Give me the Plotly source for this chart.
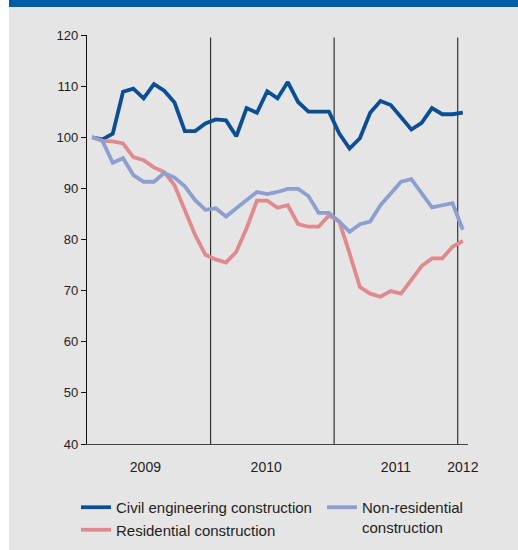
import plotly.graph_objects as go

# ---- data (monthly index, Jan 2009 = 100) ----
months = list(range(37))  # Jan 2009 .. Jan 2012
civil = [100.0, 99.6, 100.7, 108.9, 109.5, 107.6, 110.4, 109.1, 106.8, 101.2, 101.2, 102.7, 103.5,
         103.3, 100.2, 105.7, 104.8, 109.0, 107.6, 110.8, 106.9, 105.0, 105.0, 105.0,
         100.7, 97.8, 99.8, 104.8, 107.1, 106.3, 103.9, 101.5, 102.8, 105.7, 104.5, 104.5, 104.8]
residential = [100.0, 99.3, 99.2, 98.8, 96.1, 95.5, 94.1, 93.2, 90.6, 85.8, 80.9, 77.0, 76.1,
               75.5, 77.6, 82.2, 87.6, 87.6, 86.2, 86.7, 83.0, 82.5, 82.5, 84.7,
               83.5, 77.3, 70.7, 69.4, 68.8, 69.9, 69.4, 72.1, 74.8, 76.3, 76.3, 78.6, 79.7]
nonres = [100.0, 99.3, 95.0, 95.9, 92.6, 91.3, 91.3, 93.0, 92.1, 90.4, 87.7, 85.8, 86.1,
          84.5, 86.1, 87.7, 89.3, 88.9, 89.3, 89.9, 89.9, 88.5, 85.2, 85.2,
          83.5, 81.5, 83.0, 83.5, 86.7, 89.0, 91.3, 91.8, 89.0, 86.3, 86.7, 87.1, 81.9]
year_labels = ["2009", "2010", "2011", "2012"]
year_label_pos = [5.67, 17.4, 30.0, 36.5]
year_breaks = [12, 24, 36]
y_ticks = [40, 50, 60, 70, 80, 90, 100, 110, 120]

C_CIVIL = "#0a4f96"
C_RES = "#e08a90"
C_NONRES = "#8c9fd0"
BG = "#e5e5e5"
BAND = "#005ba5"
TXT = "#1e1e1e"
FONT = "Liberation Sans, Arial, sans-serif"

W, H = 518, 550
ML, MR, MT, MB = 87, 50, 35, 106
PW = W - ML - MR
PH = H - MT - MB


def px_x(p):
    return (p - ML) / PW


def px_y(p):
    return (H - MB - p) / PH


xs = [m + 0.5 for m in months]

fig = go.Figure()
fig.add_trace(go.Scatter(x=xs, y=civil, mode="lines", name="Civil engineering construction",
                         line=dict(color=C_CIVIL, width=3.8), legend="legend"))
fig.add_trace(go.Scatter(x=xs, y=residential, mode="lines", name="Residential construction",
                         line=dict(color=C_RES, width=3.8), legend="legend"))
fig.add_trace(go.Scatter(x=xs, y=nonres, mode="lines", name="Non-residential<br>construction",
                         line=dict(color=C_NONRES, width=3.8), legend="legend2"))

shapes = [
    dict(type="rect", xref="paper", yref="paper", x0=px_x(9), x1=px_x(W + 5), y0=px_y(H + 5), y1=px_y(7),
         fillcolor=BG, line=dict(width=0), layer="below"),
    dict(type="rect", xref="paper", yref="paper", x0=px_x(9), x1=px_x(W + 5), y0=px_y(7), y1=px_y(-5),
         fillcolor=BAND, line=dict(width=0), layer="below"),
]
for b in year_breaks:
    shapes.append(dict(type="line", xref="x", yref="y", x0=b, x1=b, y0=40, y1=119.5,
                       line=dict(color="#333333", width=1.2), layer="below"))

fig.update_layout(
    width=W, height=H,
    margin=dict(l=ML, r=MR, t=MT, b=MB, autoexpand=False),
    paper_bgcolor="white",
    plot_bgcolor="rgba(0,0,0,0)",
    font=dict(family=FONT, size=13, color=TXT),
    shapes=shapes,
    showlegend=True,
    legend=dict(x=px_x(76), y=px_y(491), xanchor="left", yanchor="top",
                bgcolor="rgba(0,0,0,0)", font=dict(size=15, color=TXT),
                tracegroupgap=0, itemwidth=30),
    legend2=dict(x=px_x(322), y=px_y(491), xanchor="left", yanchor="top",
                 bgcolor="rgba(0,0,0,0)", font=dict(size=15, color=TXT),
                 valign="top", itemwidth=30),
)
fig.update_xaxes(range=[0, 37], showgrid=False, zeroline=False,
                 showline=True, linecolor="#444444", linewidth=1.2,
                 tickmode="array", tickvals=year_label_pos, ticktext=year_labels,
                 ticks="outside", ticklen=10, tickcolor="rgba(0,0,0,0)",
                 tickfont=dict(size=14, color=TXT), fixedrange=True)
fig.update_yaxes(range=[40, 120], showgrid=False, zeroline=False,
                 showline=True, linecolor="#111111", linewidth=1.2,
                 tickmode="array", tickvals=y_ticks,
                 ticks="outside", ticklen=5, tickcolor="#111111", tickwidth=1,
                 tickfont=dict(size=13, color=TXT), fixedrange=True)

fig.write_html("out.html", config={"displayModeBar": False},
               post_script="document.body.style.margin='0';document.body.style.overflow='hidden';")
